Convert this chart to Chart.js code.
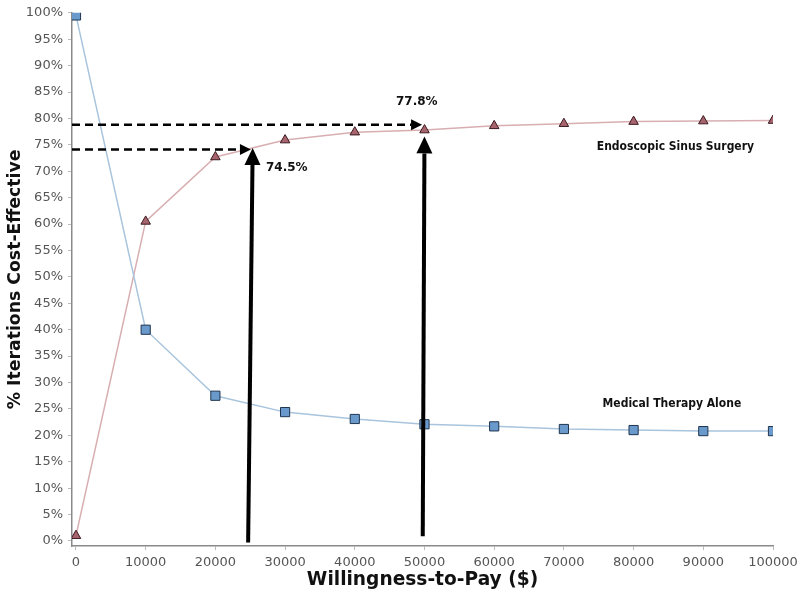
<!DOCTYPE html>
<html><head><meta charset="utf-8">
<script src="https://cdn.jsdelivr.net/npm/chart.js@4/dist/chart.umd.min.js"></script>
<style>html,body{margin:0;padding:0;background:#fff}#wrap{width:800px;height:594px}</style>
</head><body><div id="wrap"><canvas id="c" width="800" height="594"></canvas></div>
<script>
// ---- data ----
const wtp = [0, 10000, 20000, 30000, 40000, 50000, 60000, 70000, 80000, 90000, 100000];
const medicalTherapyAlone = [99.5, 40.0, 27.5, 24.4, 23.1, 22.1, 21.7, 21.2, 21.0, 20.8, 20.8];
const endoscopicSinusSurgery = [1.0, 60.5, 72.7, 75.9, 77.4, 77.8, 78.6, 79.0, 79.4, 79.5, 79.6];
const yTickValues = [0, 5, 10, 15, 20, 25, 30, 35, 40, 45, 50, 55, 60, 65, 70, 75, 80, 85, 90, 95, 100];
const xTickValues = [0, 10000, 20000, 30000, 40000, 50000, 60000, 70000, 80000, 90000, 100000];
const thresholdWTP = [25000, 50000];
const thresholdLabels = ['74.5%', '77.8%'];
const seriesNames = ['Medical Therapy Alone', 'Endoscopic Sinus Surgery'];

const toPts = (ys) => wtp.map((x, i) => ({x: x, y: ys[i]}));

const FONT = "'DejaVu Sans', Verdana, sans-serif";

function drawArrow(ctx, x1, y1, x2, y2, lw, hl, hw, dash) {
  const a = Math.atan2(y2 - y1, x2 - x1);
  const bx = x2 - hl * Math.cos(a), by = y2 - hl * Math.sin(a);
  ctx.save();
  ctx.strokeStyle = '#000'; ctx.fillStyle = '#000';
  ctx.lineWidth = lw; ctx.setLineDash(dash || []);
  ctx.beginPath(); ctx.moveTo(x1, y1); ctx.lineTo(bx, by); ctx.stroke();
  ctx.setLineDash([]);
  ctx.beginPath();
  ctx.moveTo(x2, y2);
  ctx.lineTo(bx + hw / 2 * Math.sin(a), by - hw / 2 * Math.cos(a));
  ctx.lineTo(bx - hw / 2 * Math.sin(a), by + hw / 2 * Math.cos(a));
  ctx.closePath(); ctx.fill();
  ctx.restore();
}

const annotPlugin = {
  id: 'annot',
  afterDatasetsDraw(chart) {
    const ctx = chart.ctx, xs = chart.scales.x, ys = chart.scales.y;
    const X = v => xs.getPixelForValue(v), Y = v => ys.getPixelForValue(v);
    const xmin = xs.min;
    // dashed horizontal arrows (value read-outs)
    drawArrow(ctx, X(xmin), Y(74.1), X(thresholdWTP[0] + 100), Y(74.1), 2.5, 11, 11, [8, 5]);
    drawArrow(ctx, X(xmin), Y(78.8), X(thresholdWTP[1] - 350), Y(78.8), 2.5, 11, 11, [8, 5]);
    // vertical solid arrows from the x axis
    drawArrow(ctx, X(thresholdWTP[0] - 300), Y(-0.3), X(thresholdWTP[0] + 350), Y(74.4), 4, 17, 16);
    drawArrow(ctx, X(thresholdWTP[1] - 250), Y(0.9), X(thresholdWTP[1]), Y(76.6), 4, 17, 16);
    // labels
    ctx.save();
    ctx.fillStyle = '#111';
    ctx.textAlign = 'center'; ctx.textBaseline = 'middle';
    ctx.font = 'bold 12px ' + FONT;
    ctx.fillText(thresholdLabels[0], X(30250), Y(70.7));
    ctx.fillText(thresholdLabels[1], X(48900), Y(83.2));
    ctx.font = "bold 12px 'DejaVu Sans Condensed', " + FONT;
    ctx.fillText(seriesNames[1], X(86000), Y(74.7));
    ctx.fillText(seriesNames[0], X(85500), Y(25.9));
    ctx.restore();
  }
};

new Chart(document.getElementById('c'), {
  type: 'line',
  data: {
    datasets: [
      {
        label: seriesNames[0],
        data: toPts(medicalTherapyAlone),
        borderColor: '#a9c4dd', borderWidth: 1.5,
        pointStyle: 'rect', pointRadius: 6.5,
        pointBackgroundColor: '#6a9acb', pointBorderColor: '#1f3550', pointBorderWidth: 1,
        tension: 0
      },
      {
        label: seriesNames[1],
        data: toPts(endoscopicSinusSurgery),
        borderColor: '#d8aeb1', borderWidth: 1.5,
        pointStyle: 'triangle', pointRadius: 5.5,
        pointBackgroundColor: '#a8646e', pointBorderColor: '#3a1a1e', pointBorderWidth: 1,
        tension: 0
      }
    ]
  },
  options: {
    responsive: false, animation: false, devicePixelRatio: 1,
    layout: {padding: {left: 5.6, top: 12, right: 27, bottom: 3}},
    plugins: {legend: {display: false}, tooltip: {enabled: false}},
    scales: {
      x: {
        type: 'linear', min: -570, max: 100000,
        afterBuildTicks: s => { s.ticks = xTickValues.map(v => ({value: v})); },
        afterFit: s => { s.height = 45; s.paddingLeft = 0; s.paddingRight = 0; },
        border: {display: true, color: '#8a8a8a', width: 1.5},
        grid: {display: true, drawOnChartArea: false, drawTicks: true, tickLength: 4, color: '#bbbbbb'},
        ticks: {color: '#555', font: {family: FONT, size: 13}, padding: 5, maxRotation: 0, autoSkip: false,
                callback: v => String(v)},
        title: {display: true, text: 'Willingness-to-Pay ($)', color: '#111',
                font: {family: FONT, size: 18.6, weight: 'bold'}, padding: 0}
      },
      y: {
        type: 'linear', min: -0.95, max: 100,
        afterBuildTicks: s => { s.ticks = yTickValues.map(v => ({value: v})); },
        afterFit: s => { s.width = 66.4; },
        border: {display: true, color: '#8a8a8a', width: 1.5},
        grid: {display: true, drawOnChartArea: false, drawTicks: true, tickLength: 4, color: '#bbbbbb'},
        ticks: {color: '#555', font: {family: FONT, size: 13}, padding: 5, callback: v => v + '%'},
        title: {display: true, text: '% Iterations Cost-Effective', color: '#111',
                font: {family: FONT, size: 17.3, weight: 'bold'}, padding: 0}
      }
    }
  },
  plugins: [annotPlugin]
});
</script>
</body></html>
